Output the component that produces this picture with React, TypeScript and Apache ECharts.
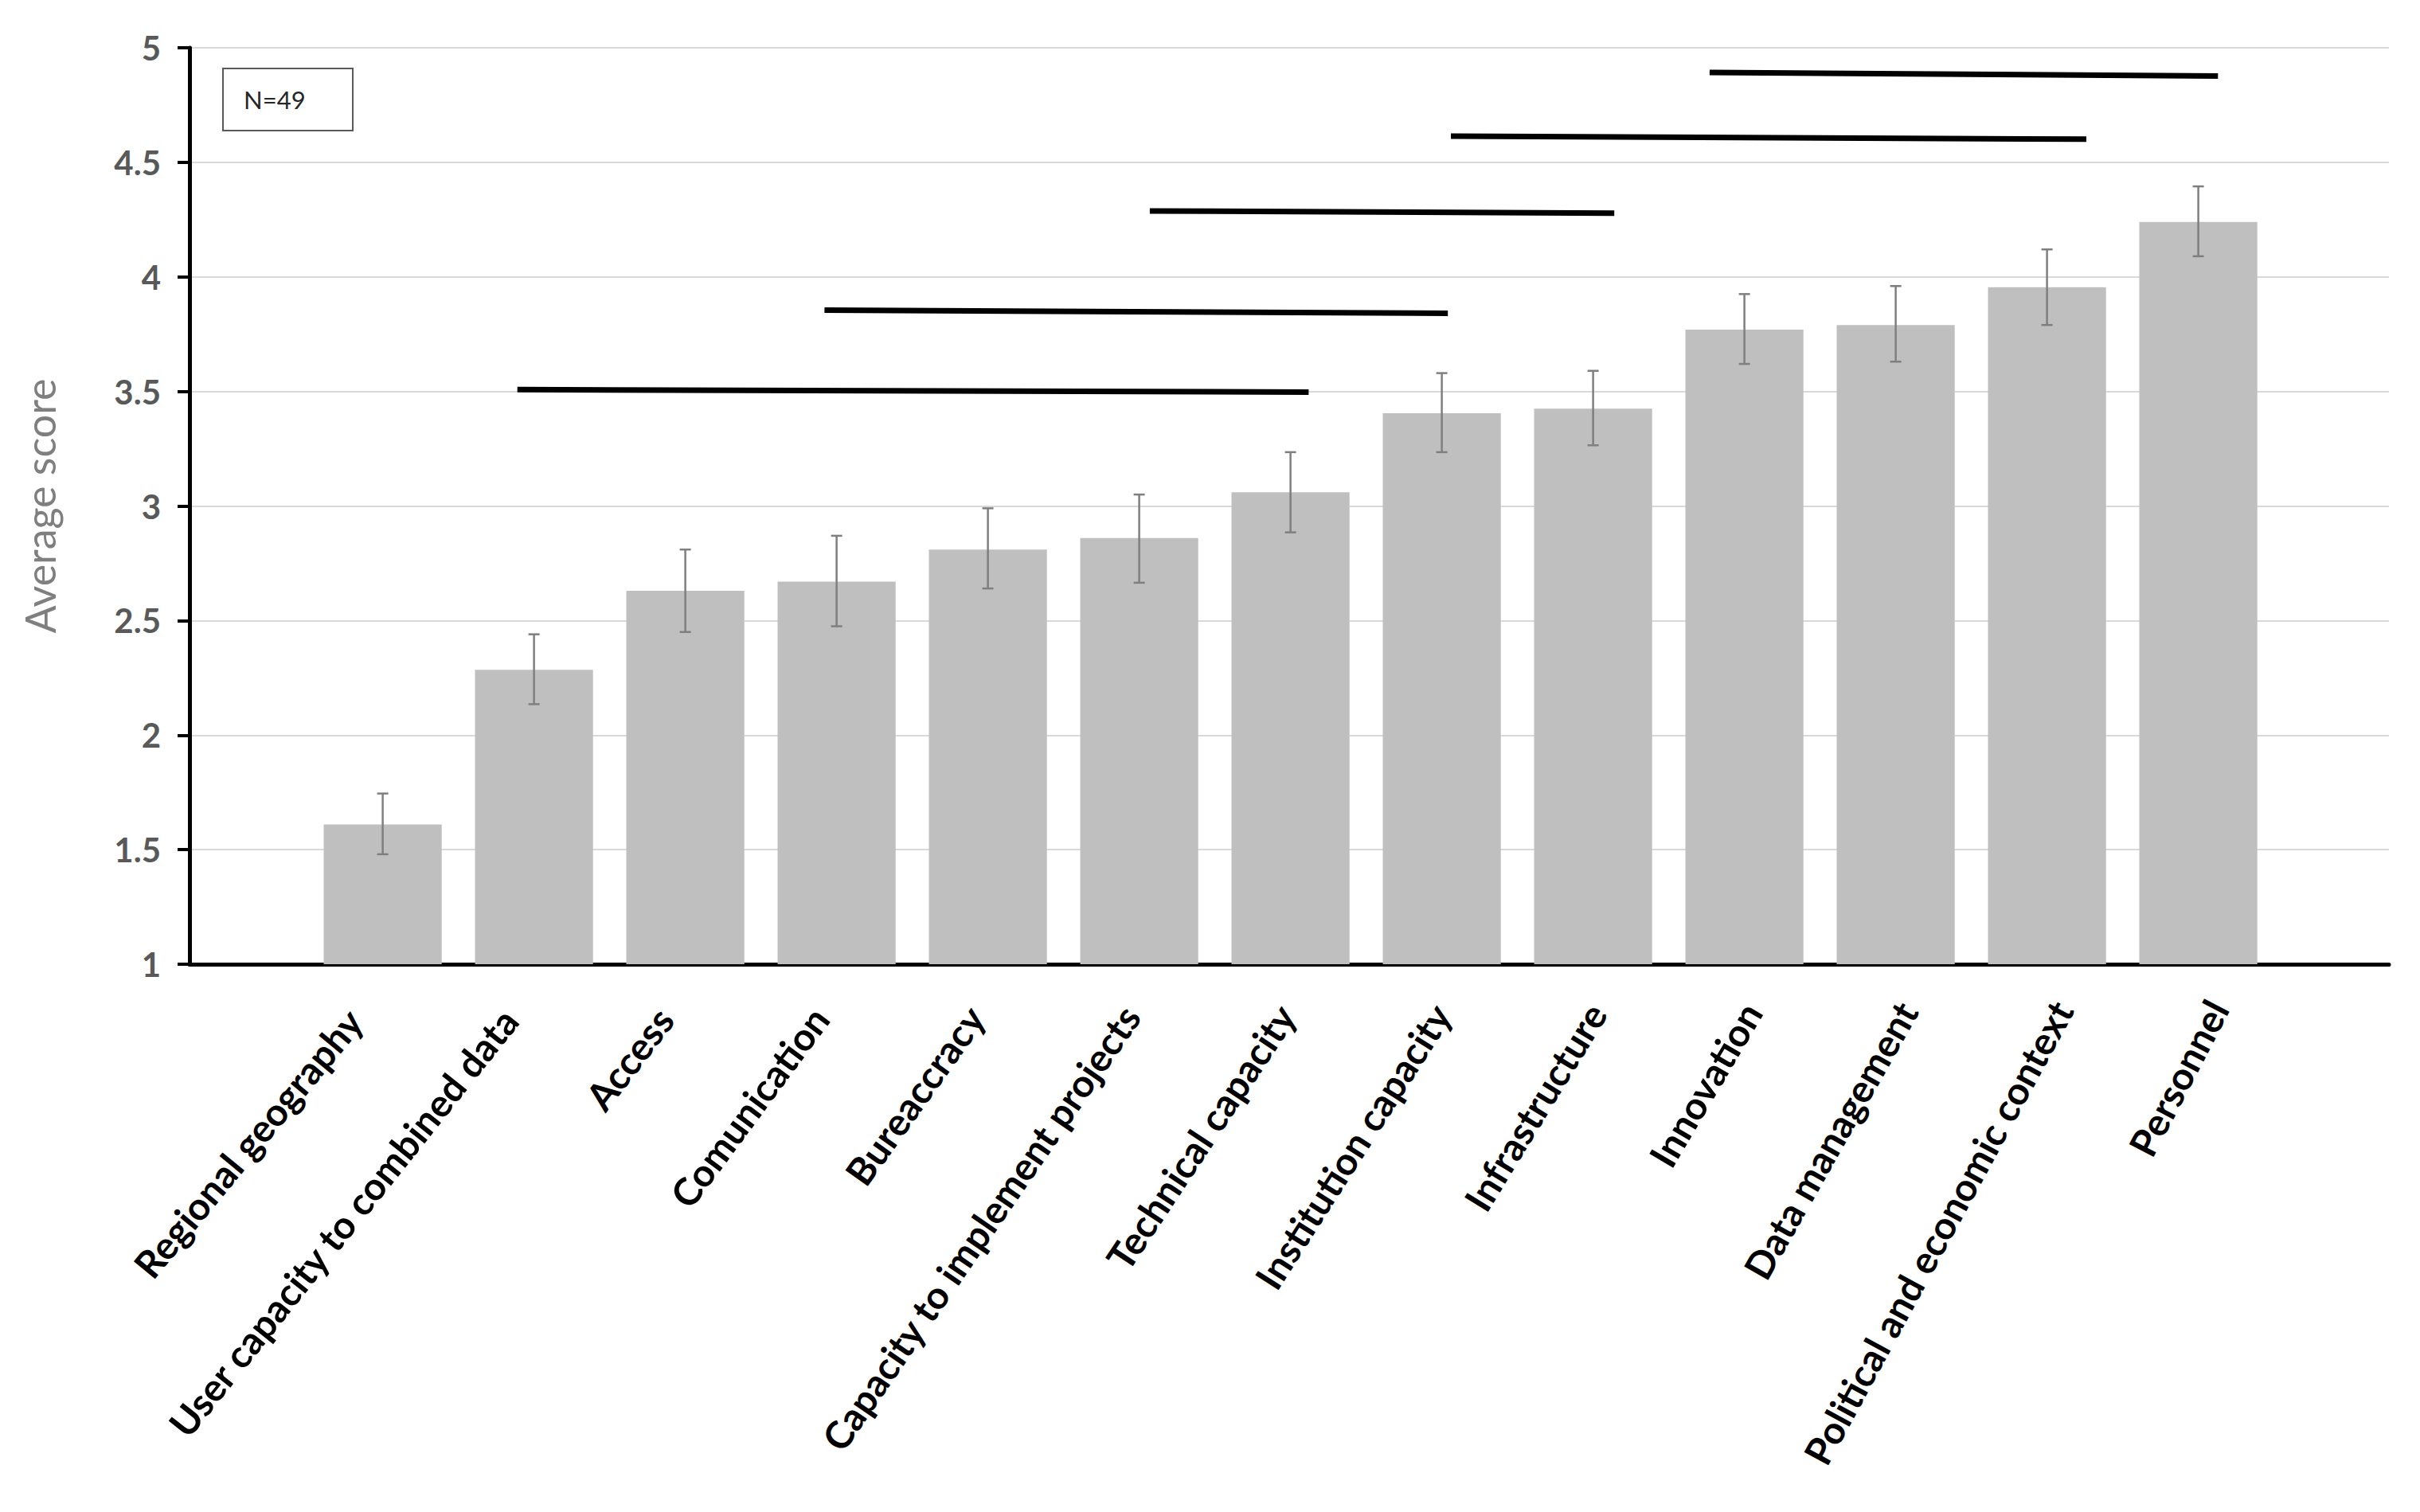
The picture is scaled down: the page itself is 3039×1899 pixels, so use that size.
import React, { useEffect, useRef } from "react";
import * as echarts from "echarts";

const categories = [
  "Regional geography",
  "User capacity to combined data",
  "Access",
  "Comunication",
  "Bureaccracy",
  "Capacity to implement projects",
  "Technical capacity",
  "Institution capacity",
  "Infrastructure",
  "Innovation",
  "Data management",
  "Political and economic context",
  "Personnel",
];
const means = [1.61, 2.285, 2.63, 2.67, 2.81, 2.86, 3.06, 3.405, 3.425, 3.77, 3.79, 3.955, 4.24];
const upperErr = [1.745, 2.44, 2.81, 2.87, 2.99, 3.05, 3.235, 3.58, 3.59, 3.925, 3.96, 4.12, 4.395];
const lowerErr = [1.48, 2.135, 2.45, 2.475, 2.64, 2.665, 2.885, 3.235, 3.265, 3.62, 3.63, 3.79, 4.09];
// significance lines: [startIndex, startValue, endIndex, endValue]
const sigLines = [
  [0.89, 3.508, 6.12, 3.497],
  [2.92, 3.855, 7.04, 3.841],
  [5.07, 4.288, 8.14, 4.278],
  [7.06, 4.614, 11.26, 4.601],
  [8.77, 4.892, 12.13, 4.877],
];
const yTicks = { min: 1, max: 5, interval: 0.5 };
const sampleLabel = "N=49";
const labelAngles = [50.5, 51.5, 52.5, 53.5, 54.5, 55.5, 56.5, 57.5, 58.5, 59.5, 60.5, 61.5, 62.5];

export default function App() {
  const ref = useRef<HTMLDivElement>(null);
  useEffect(() => {
    document.body.style.margin = "0";
    const chart = echarts.init(ref.current!, null, { renderer: "svg" });
    const W = 3039;
    const H = 1899;
    const axisX = 238;
    const axisRight = 3000;
    const top = 60;
    const bottomY = 1211;
    const band = 190;
    const firstCenter = 480.6;
    const innerLeft = firstCenter - band / 2;
    const innerRight = firstCenter + band * 12.5;
    const font = "Lato, 'Open Sans', sans-serif";

    const lineSeries = sigLines.map((l) => ({
      type: "line",
      xAxisIndex: 2,
      yAxisIndex: 1,
      symbol: "none",
      silent: true,
      data: [
        [l[0], l[1]],
        [l[2], l[3]],
      ],
      lineStyle: { color: "#000000", width: 7 },
      z: 5,
    }));

    chart.setOption({
      animation: false,
      backgroundColor: "#ffffff",
      grid: [
        { left: axisX, right: W - axisRight, top, bottom: H - bottomY },
        { left: innerLeft, right: W - innerRight, top, bottom: H - bottomY },
      ],
      xAxis: [
        {
          type: "value",
          gridIndex: 0,
          min: 0,
          max: 1,
          axisLine: { show: true, lineStyle: { color: "#000000", width: 5 } },
          axisTick: { show: false },
          axisLabel: { show: false },
          splitLine: { show: false },
        },
        {
          type: "category",
          gridIndex: 1,
          data: categories,
          axisLine: { show: false },
          axisTick: { show: false },
          axisLabel: { show: false },
          splitLine: { show: false },
        },
        {
          type: "value",
          gridIndex: 1,
          min: -0.5,
          max: 12.5,
          show: false,
        },
      ],
      yAxis: [
        {
          type: "value",
          gridIndex: 0,
          min: yTicks.min,
          max: yTicks.max,
          interval: yTicks.interval,
          name: "Average score",
          nameLocation: "middle",
          nameRotate: 90,
          nameGap: 162,
          nameTextStyle: { color: "#7f7f7f", fontSize: 52, fontFamily: font },
          axisLine: { show: true, lineStyle: { color: "#000000", width: 5 } },
          axisTick: { show: true, length: 15, lineStyle: { color: "#000000", width: 4 } },
          axisLabel: {
            color: "#595959",
            fontSize: 42,
            fontWeight: "bold",
            fontFamily: font,
            margin: 36,
          },
          splitLine: { show: true, lineStyle: { color: "#d9d9d9", width: 2 } },
        },
        {
          type: "value",
          gridIndex: 1,
          min: yTicks.min,
          max: yTicks.max,
          interval: yTicks.interval,
          show: false,
          splitLine: { show: false },
        },
      ],
      series: [
        {
          type: "bar",
          xAxisIndex: 1,
          yAxisIndex: 1,
          data: means,
          barCategoryGap: "22%",
          itemStyle: { color: "#bfbfbf" },
          silent: true,
          z: 2,
        },
        {
          type: "custom",
          xAxisIndex: 1,
          yAxisIndex: 1,
          silent: true,
          z: 4,
          data: means.map((_, i) => [i, lowerErr[i], upperErr[i]]),
          renderItem: (params: any, api: any) => {
            const lo = api.coord([api.value(0), api.value(1)]);
            const hi = api.coord([api.value(0), api.value(2)]);
            const cap = 7;
            const style = { stroke: "#7f7f7f", lineWidth: 2.5 };
            return {
              type: "group",
              children: [
                { type: "line", shape: { x1: hi[0], y1: hi[1], x2: lo[0], y2: lo[1] }, style },
                { type: "line", shape: { x1: hi[0] - cap, y1: hi[1], x2: hi[0] + cap, y2: hi[1] }, style },
                { type: "line", shape: { x1: lo[0] - cap, y1: lo[1], x2: lo[0] + cap, y2: lo[1] }, style },
              ],
            };
          },
        },
        {
          type: "custom",
          xAxisIndex: 1,
          yAxisIndex: 1,
          silent: true,
          clip: false,
          z: 6,
          data: categories.map((_, i) => [i, yTicks.min]),
          renderItem: (params: any, api: any) => {
            const i = api.value(0);
            const p = api.coord([i, api.value(1)]);
            const shiftX = -36 + 5.0 * i;
            const shiftY = 63 - 1.2 * i;
            return {
              type: "text",
              x: p[0] + shiftX,
              y: p[1] + shiftY,
              rotation: (labelAngles[i] * Math.PI) / 180,
              style: {
                text: categories[i],
                align: "right",
                verticalAlign: "middle",
                fill: "#000000",
                fontSize: 48,
                fontWeight: "bold",
                fontFamily: font,
              },
            };
          },
        },
        ...lineSeries,
      ],
      graphic: [
        {
          type: "group",
          left: 279,
          top: 85,
          children: [
            {
              type: "rect",
              shape: { x: 0, y: 0, width: 163, height: 78 },
              style: { fill: "#ffffff", stroke: "#595959", lineWidth: 2 },
            },
            {
              type: "text",
              x: 26,
              y: 39,
              style: {
                text: sampleLabel,
                fill: "#262626",
                fontSize: 31,
                fontFamily: font,
                textVerticalAlign: "middle",
                verticalAlign: "middle",
              },
            },
          ],
        },
      ],
    });
    return () => chart.dispose();
  }, []);
  return (
    <div
      ref={ref}
      style={{ position: "absolute", left: 0, top: 0, width: 3039, height: 1899 }}
    />
  );
}
